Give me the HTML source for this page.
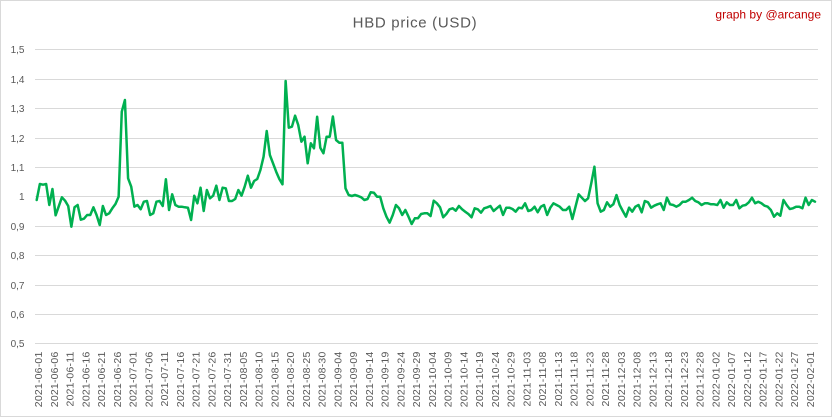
<!DOCTYPE html>
<html>
<head>
<meta charset="utf-8">
<style>
  html, body { margin:0; padding:0; background:#fff; }
  svg { display:block; }
  text { font-family: "Liberation Sans", "DejaVu Sans", sans-serif; }
</style>
</head>
<body>
<svg width="832" height="417" viewBox="0 0 832 417" xmlns="http://www.w3.org/2000/svg">
  <rect x="0" y="0" width="832" height="417" fill="#ffffff"/>
  <rect x="0.5" y="0.5" width="831" height="416" fill="none" stroke="#d9d9d9" stroke-width="1"/>

  <!-- title -->
  <text x="415" y="27.7" font-size="15" fill="#595959" text-anchor="middle" letter-spacing="0.7">HBD price (USD)</text>
  <text x="821" y="18.5" font-size="12" fill="#c00000" text-anchor="end">graph by @arcange</text>

  <!-- gridlines -->
  <g stroke="#d9d9d9" stroke-width="1" shape-rendering="crispEdges">
    <line x1="35" y1="49.5" x2="818" y2="49.5"/>
    <line x1="35" y1="79.5" x2="818" y2="79.5"/>
    <line x1="35" y1="108.5" x2="818" y2="108.5"/>
    <line x1="35" y1="138.5" x2="818" y2="138.5"/>
    <line x1="35" y1="167.5" x2="818" y2="167.5"/>
    <line x1="35" y1="196.5" x2="818" y2="196.5"/>
    <line x1="35" y1="226.5" x2="818" y2="226.5"/>
    <line x1="35" y1="255.5" x2="818" y2="255.5"/>
    <line x1="35" y1="285.5" x2="818" y2="285.5"/>
    <line x1="35" y1="314.5" x2="818" y2="314.5"/>
    <line x1="35" y1="343.5" x2="818" y2="343.5"/>
  </g>

  <!-- y labels -->
  <g font-size="10" fill="#595959" text-anchor="end">
    <text x="24.5" y="53.2">1,5</text>
    <text x="24.5" y="83.2">1,4</text>
    <text x="24.5" y="112.2">1,3</text>
    <text x="24.5" y="142.2">1,2</text>
    <text x="24.5" y="171.2">1,1</text>
    <text x="24.5" y="200.2">1</text>
    <text x="24.5" y="230.2">0,9</text>
    <text x="24.5" y="259.2">0,8</text>
    <text x="24.5" y="289.2">0,7</text>
    <text x="24.5" y="318.2">0,6</text>
    <text x="24.5" y="347.2">0,5</text>
  </g>

  <!-- x labels -->
  <g font-size="10.5" fill="#595959" text-anchor="end" letter-spacing="0.2">
    <text transform="translate(42.0,351.5) rotate(-90)">2021-06-01</text>
    <text transform="translate(57.76,351.5) rotate(-90)">2021-06-06</text>
    <text transform="translate(73.51,351.5) rotate(-90)">2021-06-11</text>
    <text transform="translate(89.27,351.5) rotate(-90)">2021-06-16</text>
    <text transform="translate(105.02,351.5) rotate(-90)">2021-06-21</text>
    <text transform="translate(120.78,351.5) rotate(-90)">2021-06-26</text>
    <text transform="translate(136.53,351.5) rotate(-90)">2021-07-01</text>
    <text transform="translate(152.29,351.5) rotate(-90)">2021-07-06</text>
    <text transform="translate(168.04,351.5) rotate(-90)">2021-07-11</text>
    <text transform="translate(183.8,351.5) rotate(-90)">2021-07-16</text>
    <text transform="translate(199.55,351.5) rotate(-90)">2021-07-21</text>
    <text transform="translate(215.31,351.5) rotate(-90)">2021-07-26</text>
    <text transform="translate(231.06,351.5) rotate(-90)">2021-07-31</text>
    <text transform="translate(246.82,351.5) rotate(-90)">2021-08-05</text>
    <text transform="translate(262.57,351.5) rotate(-90)">2021-08-10</text>
    <text transform="translate(278.33,351.5) rotate(-90)">2021-08-15</text>
    <text transform="translate(294.08,351.5) rotate(-90)">2021-08-20</text>
    <text transform="translate(309.84,351.5) rotate(-90)">2021-08-25</text>
    <text transform="translate(325.59,351.5) rotate(-90)">2021-08-30</text>
    <text transform="translate(341.35,351.5) rotate(-90)">2021-09-04</text>
    <text transform="translate(357.1,351.5) rotate(-90)">2021-09-09</text>
    <text transform="translate(372.86,351.5) rotate(-90)">2021-09-14</text>
    <text transform="translate(388.61,351.5) rotate(-90)">2021-09-19</text>
    <text transform="translate(404.37,351.5) rotate(-90)">2021-09-24</text>
    <text transform="translate(420.12,351.5) rotate(-90)">2021-09-29</text>
    <text transform="translate(435.88,351.5) rotate(-90)">2021-10-04</text>
    <text transform="translate(451.63,351.5) rotate(-90)">2021-10-09</text>
    <text transform="translate(467.39,351.5) rotate(-90)">2021-10-14</text>
    <text transform="translate(483.14,351.5) rotate(-90)">2021-10-19</text>
    <text transform="translate(498.9,351.5) rotate(-90)">2021-10-24</text>
    <text transform="translate(514.65,351.5) rotate(-90)">2021-10-29</text>
    <text transform="translate(530.41,351.5) rotate(-90)">2021-11-03</text>
    <text transform="translate(546.16,351.5) rotate(-90)">2021-11-08</text>
    <text transform="translate(561.92,351.5) rotate(-90)">2021-11-13</text>
    <text transform="translate(577.67,351.5) rotate(-90)">2021-11-18</text>
    <text transform="translate(593.43,351.5) rotate(-90)">2021-11-23</text>
    <text transform="translate(609.18,351.5) rotate(-90)">2021-11-28</text>
    <text transform="translate(624.94,351.5) rotate(-90)">2021-12-03</text>
    <text transform="translate(640.69,351.5) rotate(-90)">2021-12-08</text>
    <text transform="translate(656.45,351.5) rotate(-90)">2021-12-13</text>
    <text transform="translate(672.2,351.5) rotate(-90)">2021-12-18</text>
    <text transform="translate(687.96,351.5) rotate(-90)">2021-12-23</text>
    <text transform="translate(703.71,351.5) rotate(-90)">2021-12-28</text>
    <text transform="translate(719.47,351.5) rotate(-90)">2022-01-02</text>
    <text transform="translate(735.22,351.5) rotate(-90)">2022-01-07</text>
    <text transform="translate(750.98,351.5) rotate(-90)">2022-01-12</text>
    <text transform="translate(766.73,351.5) rotate(-90)">2022-01-17</text>
    <text transform="translate(782.49,351.5) rotate(-90)">2022-01-22</text>
    <text transform="translate(798.24,351.5) rotate(-90)">2022-01-27</text>
    <text transform="translate(814.0,351.5) rotate(-90)">2022-02-01</text>
  </g>

  <!-- series -->
  <polyline transform="translate(36.7,0) scale(3.151,1)" vector-effect="non-scaling-stroke"
    fill="none" stroke="#00b050" stroke-width="2.5" stroke-linejoin="round" stroke-linecap="round"
    points="0,200 1,184 2,184.7 3,184 4,205 5,189 6,215.3 7,206.3 8,197.3 9,200.7
    10,206 11,226.7 12,207.3 13,205 14,219.7 15,218.7 16,215 17,215 18,207.3 19,215
    20,225 21,206 22,215 23,213.3 24,208.3 25,204 26,196.7 27,111.7 28,100 29,178.3
    30,186.7 31,206.7 32,205 33,209.3 34,201.7 35,201 36,215 37,213.3 38,201.7 39,201
    40,206 41,179.3 42,210 43,194.3 44,205 45,206.7 46,206.7 47,207.3 48,207.7 49,220
    50,195.7 51,203.3 52,187.7 53,211 54,190 55,198.3 56,195.7 57,185.7 58,200 59,187.7
    60,188.3 61,201 62,201 63,199 64,190 65,195.7 66,186.7 67,175.7 68,187.7 69,181
    70,179 71,170 72,156.7 73,131 74,155 75,163.3 76,171.7 77,179 78,184.3 79,81
    80,127.7 81,126.7 82,115.7 83,125 84,141.7 85,136.7 86,163.3 87,143.3 88,148.3 89,116.7
    90,147.7 91,153.3 92,136.7 93,136.7 94,116.5 95,140 96,142.7 97,142.7 98,188.3 99,195
    100,196 101,195 102,196 103,197.3 104,200 105,199 106,192.3 107,192.7 108,196.7 109,196.7
    110,208.3 111,216.7 112,222.7 113,215 114,205 115,208.3 116,215 117,210 118,216.7 119,224
    120,218.3 121,218.3 122,214 123,213.3 124,213.3 125,216 126,200.7 127,203.3 128,207.3 129,217.3
    130,214 131,209.3 132,208.3 133,210.7 134,206 135,209.3 136,211.7 137,214 138,217.3 139,208.3
    140,209.3 141,212.7 142,208.3 143,207.3 144,206 145,211 146,208.3 147,205.7 148,215 149,207.7
    150,207.7 151,209 152,211.7 153,207.7 154,208.3 155,203.3 156,211 157,210 158,206.7 159,212.3
    160,206.7 161,205 162,215 163,207.7 164,203.3 165,205 166,206.7 167,210 168,210 169,206.7
    170,219 171,206.7 172,194.3 173,197.7 174,201 175,198.3 176,183.3 177,166.7 178,203.3 179,211.7
    180,210 181,202.3 182,206.7 183,204.3 184,195 185,205 186,211 187,216.7 188,207.7 189,211.7
    190,206.7 191,205 192,212.3 193,201 194,202.3 195,207.7 196,205.7 197,204.3 198,203.3 199,210
    200,197.7 201,204.3 202,205 203,206.7 204,205 205,201.7 206,201.7 207,200 208,197.7 209,201
    210,202.3 211,205 212,203.3 213,203.3 214,204.3 215,204.3 216,205 217,200 218,207.7 219,202.3
    220,205 221,205 222,200 223,208.3 224,205.7 225,205 226,202.3 227,197.7 228,203.3 229,201.7
    230,203.3 231,205.7 232,206.7 233,210 234,216.7 235,213.3 236,215.7 237,200 238,205 239,209
    240,208.3 241,206.7 242,206.7 243,208.3 244,197.7 245,205 246,200 247,201.7"/>
</svg>
</body>
</html>
